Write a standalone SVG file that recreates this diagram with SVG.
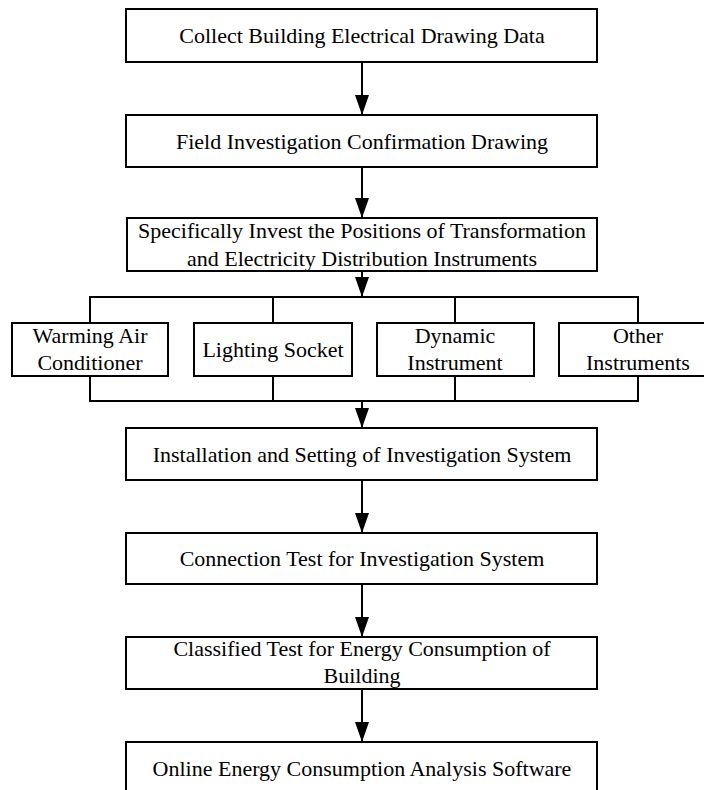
<svg xmlns="http://www.w3.org/2000/svg" width="704" height="790" viewBox="0 0 704 790">
  <style>
    .box { fill: #fff; stroke: #000; stroke-width: 2; }
    .lbl { font-family: "Liberation Serif", "Times New Roman", serif; font-size: 22px; fill: #000; text-anchor: middle; }
    .wire { fill: none; stroke: #000; stroke-width: 2; }
  </style>
  <defs>
    <marker id="arrow" viewBox="0 0 20 14" refX="20" refY="7" markerWidth="20" markerHeight="14" markerUnits="userSpaceOnUse" orient="auto">
      <path d="M0,0 L20,7 L0,14 z" fill="#000"/>
    </marker>
  </defs>
  <rect width="704" height="790" fill="#fff"/>

  <!-- connectors -->
  <g id="connectors">
    <line class="wire" x1="362" y1="62" x2="362" y2="115" marker-end="url(#arrow)"/>
    <line class="wire" x1="362" y1="167" x2="362" y2="218" marker-end="url(#arrow)"/>
    <line class="wire" x1="362" y1="271" x2="362" y2="297" marker-end="url(#arrow)"/>
    <!-- fan-out bus -->
    <polyline class="wire" points="90,323 90,297 638,297 638,323"/>
    <line class="wire" x1="273" y1="297" x2="273" y2="323"/>
    <line class="wire" x1="455" y1="297" x2="455" y2="323"/>
    <!-- fan-in bus -->
    <polyline class="wire" points="90,376 90,401 638,401 638,376"/>
    <line class="wire" x1="273" y1="376" x2="273" y2="401"/>
    <line class="wire" x1="455" y1="376" x2="455" y2="401"/>
    <line class="wire" x1="362" y1="401" x2="362" y2="428" marker-end="url(#arrow)"/>
    <line class="wire" x1="362" y1="480" x2="362" y2="533" marker-end="url(#arrow)"/>
    <line class="wire" x1="362" y1="584" x2="362" y2="637" marker-end="url(#arrow)"/>
    <line class="wire" x1="362" y1="689" x2="362" y2="742" marker-end="url(#arrow)"/>
  </g>

  <g id="collect">
    <rect class="box" x="126" y="9" width="471" height="53"/>
    <text class="lbl" x="362" y="43">Collect Building Electrical Drawing Data</text>
  </g>
  <g id="field">
    <rect class="box" x="126" y="115" width="471" height="52"/>
    <text class="lbl" x="362" y="149">Field Investigation Confirmation Drawing</text>
  </g>
  <g id="positions">
    <rect class="box" x="127" y="218" width="470" height="53"/>
    <text class="lbl" x="362" y="238">Specifically Invest the Positions of Transformation</text>
    <text class="lbl" x="362" y="266">and Electricity Distribution Instruments</text>
  </g>
  <g id="warming">
    <rect class="box" x="12" y="323" width="156" height="53"/>
    <text class="lbl" x="90" y="343">Warming Air</text>
    <text class="lbl" x="90" y="370">Conditioner</text>
  </g>
  <g id="lighting">
    <rect class="box" x="194" y="323" width="158" height="53"/>
    <text class="lbl" x="273" y="357">Lighting Socket</text>
  </g>
  <g id="dynamic">
    <rect class="box" x="377" y="323" width="157" height="53"/>
    <text class="lbl" x="455" y="343">Dynamic</text>
    <text class="lbl" x="455" y="370">Instrument</text>
  </g>
  <g id="other">
    <rect class="box" x="559" y="323" width="157" height="53"/>
    <text class="lbl" x="638" y="343">Other</text>
    <text class="lbl" x="638" y="370">Instruments</text>
  </g>
  <g id="install">
    <rect class="box" x="126" y="428" width="471" height="52"/>
    <text class="lbl" x="362" y="462">Installation and Setting of Investigation System</text>
  </g>
  <g id="connection">
    <rect class="box" x="126" y="533" width="471" height="51"/>
    <text class="lbl" x="362" y="566">Connection Test for Investigation System</text>
  </g>
  <g id="classified">
    <rect class="box" x="126" y="637" width="471" height="52"/>
    <text class="lbl" x="362" y="656">Classified Test for Energy Consumption of</text>
    <text class="lbl" x="362" y="683">Building</text>
  </g>
  <g id="online">
    <rect class="box" x="126" y="742" width="471" height="60"/>
    <text class="lbl" x="362" y="776">Online Energy Consumption Analysis Software</text>
  </g>
</svg>
